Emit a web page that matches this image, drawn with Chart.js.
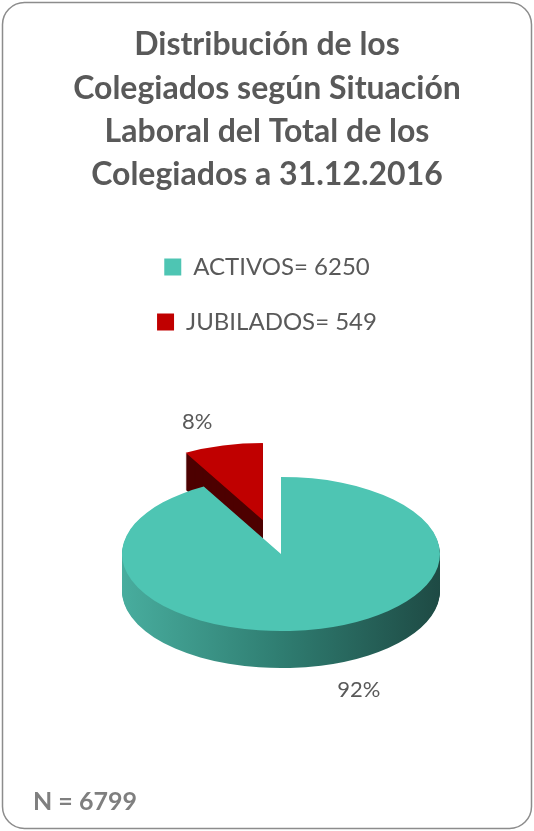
<!DOCTYPE html>
<html>
<head>
<meta charset="utf-8">
<script src="https://cdn.jsdelivr.net/npm/chart.js@4.4.0/dist/chart.umd.min.js"></script>
<style>
  html, body { margin: 0; padding: 0; background: #fff; }
  #wrap { width: 534px; height: 831px; }
</style>
</head>
<body>
<div id="wrap"><canvas id="myChart"></canvas></div>
<script>
const categories = ["ACTIVOS", "JUBILADOS"];
const values = [6250, 549];
const titleLines = [
  "Distribución de los",
  "Colegiados según Situación",
  "Laboral del Total de los",
  "Colegiados a 31.12.2016",
];
const topColors = ["#4ec5b3", "#c00000"];

const total = values.reduce((a, b) => a + b, 0);
const legendLabels = categories.map((c, i) => c + "= " + values[i]);
const FONT = "Lato, 'Open Sans', sans-serif";

// flattened pie with a side wall, drawn from the library's own arc elements
const pie3d = {
  id: "pie3d",
  beforeDatasetDraw(chart, args, opts) {
    const ctx = chart.ctx;
    const arcs = args.meta.data;
    const cx = arcs[0].x, cy = arcs[0].y, r = arcs[0].outerRadius;
    const depth = opts.depth / opts.squash;
    ctx.save();
    ctx.translate(cx + opts.shiftX, cy);
    ctx.scale(1, opts.squash);
    ctx.translate(-cx, -cy);
    for (let i = arcs.length - 1; i >= 0; i--) {
      const arc = arcs[i];
      const mid = (arc.startAngle + arc.endAngle) / 2;
      const off = opts.explode[i] || 0;
      const dx = Math.cos(mid) * off, dy = Math.sin(mid) * off;
      const bg = arc.options.backgroundColor;
      let side = opts.sideColors[i];
      if (Array.isArray(side)) {
        const g = ctx.createLinearGradient(cx - r, 0, cx + r, 0);
        side.forEach((c, k) => g.addColorStop(k / (side.length - 1), c));
        side = g;
      }
      arc.options.backgroundColor = side;
      for (let d = depth; d > 0; d -= 1 / opts.squash) {
        ctx.save();
        ctx.translate(dx, dy + d);
        arc.draw(ctx);
        ctx.restore();
      }
      arc.options.backgroundColor = bg;
      ctx.save();
      ctx.translate(dx, dy);
      arc.draw(ctx);
      ctx.restore();
    }
    ctx.restore();
    return false;
  },
  afterDatasetsDraw(chart, args, opts) {
    const ctx = chart.ctx;
    const arcs = chart.getDatasetMeta(0).data;
    ctx.save();
    ctx.font = "22px " + FONT;
    ctx.fillStyle = "#595959";
    ctx.textAlign = "center";
    ctx.textBaseline = "middle";
    arcs.forEach((arc, i) => {
      const mid = (arc.startAngle + arc.endAngle) / 2;
      const off = opts.explode[i] || 0;
      const c = Math.cos(mid), s = Math.sin(mid);
      const x = arc.x + opts.shiftX + 6 + c * off + c * arc.outerRadius * 1.8;
      let y = arc.y + (s * off + s * arc.outerRadius * 1.32) * opts.squash;
      if (s > 0) y += opts.depth;
      ctx.fillText(Math.round(values[i] / total * 100) + "%", x, y);
    });
    ctx.restore();
  },
};

// frame, title lines and N total
const frame = {
  id: "frame",
  afterDraw(chart) {
    const ctx = chart.ctx;
    ctx.save();
    ctx.strokeStyle = "#8c8c8c";
    ctx.lineWidth = 1.5;
    ctx.beginPath();
    ctx.roundRect(2.5, 2.5, chart.width - 5, chart.height - 5, 22);
    ctx.stroke();

    ctx.font = "bold 32px " + FONT;
    ctx.fillStyle = "#595959";
    ctx.textAlign = "center";
    ctx.textBaseline = "middle";
    titleLines.forEach((t, k) => ctx.fillText(t, chart.width / 2, 45 + k * 43.3));

    ctx.font = "bold 25px " + FONT;
    ctx.fillStyle = "#7f7f7f";
    ctx.textAlign = "left";
    ctx.fillText("N = " + total, 33, chart.height - 29);
    ctx.restore();
  },
};

const ctx = document.getElementById("myChart");
new Chart(ctx, {
  type: "pie",
  data: {
    labels: legendLabels,
    datasets: [
      {
        data: values,
        backgroundColor: topColors,
        borderWidth: 0,
      },
    ],
  },
  plugins: [pie3d, frame],
  options: {
    responsive: true,
    maintainAspectRatio: false,
    animation: false,
    events: [],
    layout: { padding: { left: 108, right: 108, top: 224, bottom: 67 } },
    plugins: {
      title: { display: false },
      legend: {
        position: "top",
        labels: {
          color: "#595959",
          font: { family: FONT, size: 24 },
          boxWidth: 17,
          boxHeight: 17,
          padding: 31,
        },
      },
      tooltip: { enabled: false },
      pie3d: {
        squash: 0.485,
        depth: 37,
        shiftX: 14,
        explode: [0, 72],
        sideColors: [["#48ad9e", "#2f7d71", "#1e4a44"], "#4d0000"],
      },
    },
  },
});
</script>
</body>
</html>
